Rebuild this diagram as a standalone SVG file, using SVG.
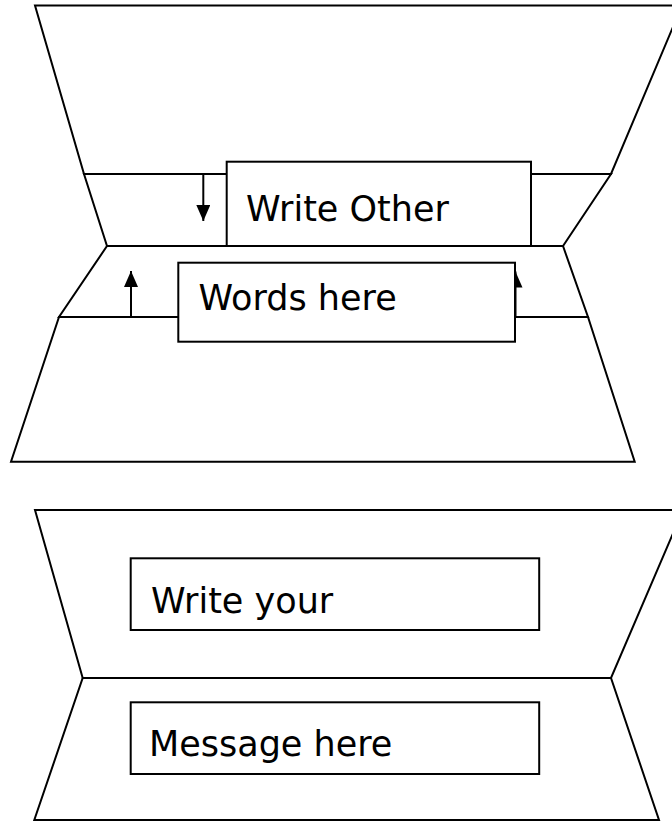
<svg xmlns="http://www.w3.org/2000/svg" width="672" height="822" viewBox="0 0 672 822">
<defs>
<style>
.pan{fill:#fff;stroke:#000;stroke-width:2;stroke-linejoin:miter}
.box{fill:#fff;stroke:#000;stroke-width:2}
.lbl{font-family:"DejaVu Sans",sans-serif;font-size:35px;fill:#000}
.con{stroke:#000;stroke-width:2;fill:none}
</style>
<marker id="ah" viewBox="0 0 16 14" refX="16" refY="7" markerWidth="16" markerHeight="14" markerUnits="userSpaceOnUse" orient="auto">
<path d="M0,0 L16,7 L0,14 Z" fill="#000"/>
</marker>
</defs>
<rect width="672" height="822" fill="#fff"/>
<g id="fold-top">
<polygon class="pan" points="35,5.5 682,5.5 611,174 84,174"/>
<polygon class="pan" points="84,174 611,174 563,246 107,246"/>
<polygon class="pan" points="107,246 563,246 588,317 59,317"/>
<polygon class="pan" points="59,317 588,317 634.7,461.7 11,461.7"/>
</g>
<g id="fold-bottom">
<polygon class="pan" points="35,510 683,510 611,678 82.7,678"/>
<polygon class="pan" points="82.7,678 611,678 659,820 34.3,820"/>
</g>
<g id="connectors">
<line class="con" x1="203.3" y1="174" x2="203.3" y2="221" marker-end="url(#ah)"/>
<line class="con" x1="131" y1="317" x2="131" y2="271" marker-end="url(#ah)"/>
<line class="con" x1="515.5" y1="317" x2="515.5" y2="271.5" marker-end="url(#ah)"/>
</g>
<g id="box-write-other">
<rect class="box" x="226.7" y="161.7" width="304.3" height="84.3"/>
<text class="lbl" x="246" y="220.5">Write Other</text>
</g>
<g id="box-words-here">
<rect class="box" x="178.3" y="262.7" width="336.7" height="79"/>
<text class="lbl" x="198.5" y="310">Words here</text>
</g>
<g id="box-write-your">
<rect class="box" x="130.7" y="558.3" width="408.5" height="71.7"/>
<text class="lbl" x="151" y="612.7">Write your</text>
</g>
<g id="box-message-here">
<rect class="box" x="130.7" y="702.3" width="408.5" height="71.7"/>
<text class="lbl" x="149" y="756">Message here</text>
</g>
</svg>
